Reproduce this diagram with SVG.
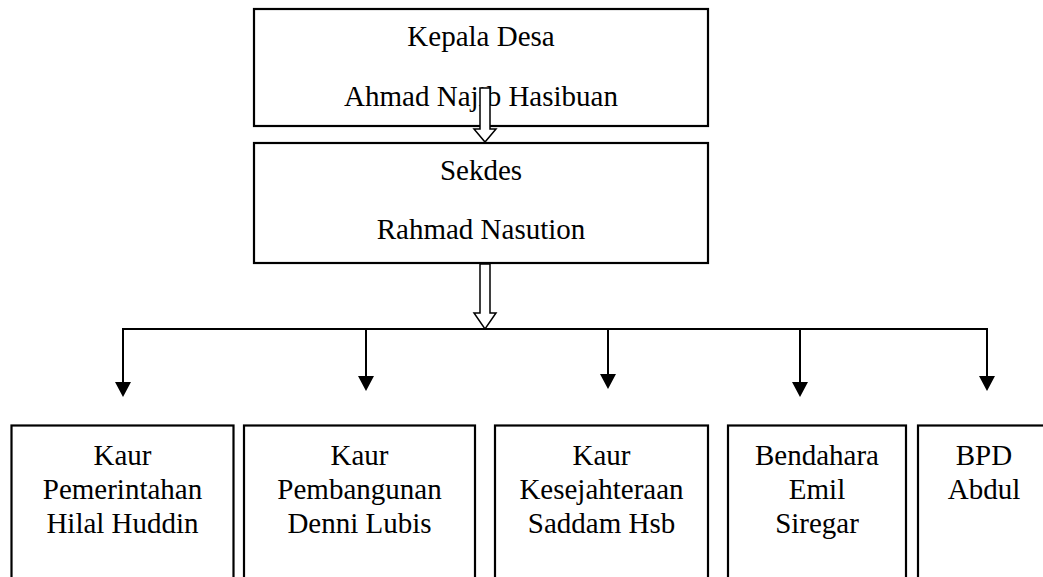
<svg xmlns="http://www.w3.org/2000/svg" width="1043" height="577" viewBox="0 0 1043 577">
<style>
.box{fill:#fff;stroke:#000;stroke-width:2.2}
.t{font-family:"Liberation Serif","Times New Roman",serif;font-size:29px;fill:#000;text-anchor:middle}
.ln{stroke:#000;stroke-width:2;fill:none}
.hollow{fill:#fff;stroke:#000;stroke-width:1.5;stroke-linejoin:miter}
.head{fill:#000;stroke:none}
</style>
<rect width="1043" height="577" fill="#fff"/>
<g id="kepala-desa">
<rect class="box" x="254" y="9" width="454" height="117"/>
<text class="t" x="481" y="46">Kepala Desa</text>
<text class="t" x="481" y="106">Ahmad Najib Hasibuan</text>
</g>
<g id="sekdes">
<rect class="box" x="254" y="143" width="454" height="120"/>
<text class="t" x="481" y="180">Sekdes</text>
<text class="t" x="481" y="239">Rahmad Nasution</text>
</g>
<g id="kaur-pemerintahan">
<rect class="box" x="11.5" y="425.5" width="222" height="180"/>
<text class="t" x="122.5" y="465">Kaur</text>
<text class="t" x="122.5" y="499">Pemerintahan</text>
<text class="t" x="122.5" y="533">Hilal Huddin</text>
</g>
<g id="kaur-pembangunan">
<rect class="box" x="244" y="425.5" width="231" height="180"/>
<text class="t" x="359.5" y="465">Kaur</text>
<text class="t" x="359.5" y="499">Pembangunan</text>
<text class="t" x="359.5" y="533">Denni Lubis</text>
</g>
<g id="kaur-kesejahteraan">
<rect class="box" x="495" y="425.5" width="213" height="180"/>
<text class="t" x="601.5" y="465">Kaur</text>
<text class="t" x="601.5" y="499">Kesejahteraan</text>
<text class="t" x="601.5" y="533">Saddam Hsb</text>
</g>
<g id="bendahara">
<rect class="box" x="728" y="425.5" width="178" height="180"/>
<text class="t" x="817" y="465">Bendahara</text>
<text class="t" x="817" y="499">Emil</text>
<text class="t" x="817" y="533">Siregar</text>
</g>
<g id="bpd">
<rect class="box" x="918" y="425.5" width="140" height="180"/>
<text class="t" x="984" y="465">BPD</text>
<text class="t" x="984" y="499">Abdul</text>
</g>
<g id="connectors">
<polygon class="hollow" points="480,88 490,88 490,129 496,129 485,142 474,129 480,129"/>
<polygon class="hollow" points="480,264 490,264 490,313 496,313 485,329 474,313 480,313"/>
<polyline class="ln" points="123,382 123,329 987,329 987,377"/>
<line class="ln" x1="366" y1="329" x2="366" y2="377"/>
<line class="ln" x1="608" y1="329" x2="608" y2="375"/>
<line class="ln" x1="800" y1="329" x2="800" y2="383"/>
<polygon class="head" points="115,382 131,382 123,397"/>
<polygon class="head" points="358,376 374,376 366,391"/>
<polygon class="head" points="600,374 616,374 608,389"/>
<polygon class="head" points="792,382 808,382 800,397"/>
<polygon class="head" points="979,376 995,376 987,391"/>
</g>
</svg>
